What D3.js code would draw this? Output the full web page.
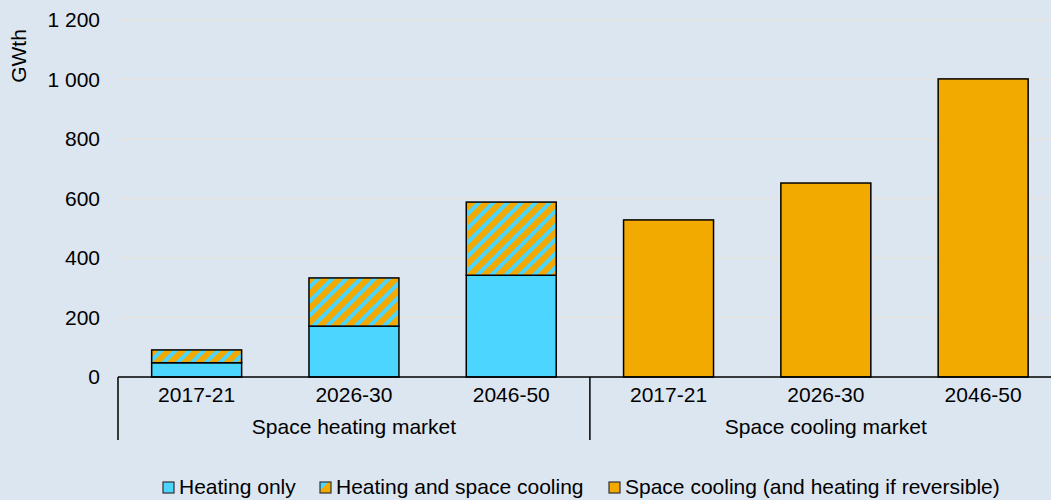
<!DOCTYPE html>
<html>
<head>
<meta charset="utf-8">
<script src="https://cdn.jsdelivr.net/npm/d3@7"></script>
<style>
  html, body { margin: 0; padding: 0; background: #dce6f1; }
  svg { display: block; font-family: "Liberation Sans", Arial, sans-serif; }
</style>
</head>
<body>
<svg id="chart" width="1051" height="500"></svg>
<script>
// Market groups and periods
const groups = ["Space heating market", "Space cooling market"];
const periods = ["2017-21", "2026-30", "2046-50"];

// GWth per period
const heatingOnly = [48, 171, 342];
const heatingAndCooling = [43, 162, 246];
const spaceCooling = [528, 652, 1002];

const yTicks = [0, 200, 400, 600, 800, 1000, 1200];
const seriesNames = ["Heating only", "Heating and space cooling", "Space cooling (and heating if reversible)"];

const CYAN = "#4cd5ff";
const ORANGE = "#f2a900";
const FS = 21;

const svg = d3.select("#chart");
const W = 1051, H = 500;

// Hatched fill for the combined heating/cooling segment
const defs = svg.append("defs");
const pat = defs.append("pattern")
  .attr("id", "hatch")
  .attr("patternUnits", "userSpaceOnUse")
  .attr("width", 10).attr("height", 10)
  .attr("patternTransform", "rotate(45)");
pat.append("rect").attr("width", 10).attr("height", 10).attr("fill", ORANGE);
pat.append("rect").attr("x", 0).attr("width", 4).attr("height", 10).attr("fill", CYAN);

const legendGrad = defs.append("linearGradient")
  .attr("id", "legendSplit").attr("x1", 0).attr("y1", 0).attr("x2", 1).attr("y2", 1);
legendGrad.append("stop").attr("offset", "0.4").attr("stop-color", CYAN);
legendGrad.append("stop").attr("offset", "0.4").attr("stop-color", ORANGE);

// Flattened categories: group × period
const cats = [];
groups.forEach((g, gi) => periods.forEach((p, pi) => cats.push({ key: gi + "|" + p, group: g, gi, period: p, pi })));

const left = 118, bottomY = 377, topY = 20;
const x = d3.scaleBand()
  .domain(cats.map(d => d.key))
  .range([left, left + 6 * 157.3])
  .paddingInner(0.428)
  .paddingOuter(0.214);

const y = d3.scaleLinear().domain([0, 1200]).range([bottomY, topY]);

// Gridlines
svg.append("g").selectAll("line").data(yTicks.filter(t => t > 0)).join("line")
  .attr("x1", left).attr("x2", W)
  .attr("y1", d => y(d)).attr("y2", d => y(d))
  .attr("stroke", "#e6e2dd").attr("stroke-width", 1.3);

// Y axis labels
const fmt = v => d3.format(",")(v).replace(/,/g, " ");
svg.append("g").selectAll("text").data(yTicks).join("text")
  .attr("x", 100).attr("y", d => y(d)).attr("dy", "0.35em")
  .attr("text-anchor", "end").attr("font-size", FS).attr("fill", "#000")
  .text(fmt);

svg.append("text")
  .attr("transform", "translate(26,56) rotate(-90)")
  .attr("text-anchor", "middle").attr("font-size", FS).attr("fill", "#000")
  .text("GWth");

// Bars
const barG = svg.append("g");
cats.forEach(c => {
  const bx = x(c.key), bw = x.bandwidth();
  if (c.gi === 0) {
    const h0 = heatingOnly[c.pi];
    const h1 = h0 + heatingAndCooling[c.pi];
    barG.append("rect")
      .attr("x", bx).attr("width", bw)
      .attr("y", y(h0)).attr("height", y(0) - y(h0))
      .attr("fill", CYAN).attr("stroke", "#000").attr("stroke-width", 1.5);
    barG.append("rect")
      .attr("x", bx).attr("width", bw)
      .attr("y", y(h1)).attr("height", y(h0) - y(h1))
      .attr("fill", "url(#hatch)").attr("stroke", "#000").attr("stroke-width", 1.5);
  } else {
    const v = spaceCooling[c.pi];
    barG.append("rect")
      .attr("x", bx).attr("width", bw)
      .attr("y", y(v)).attr("height", y(0) - y(v))
      .attr("fill", ORANGE).attr("stroke", "#000").attr("stroke-width", 1.5);
  }
});

// X axis baseline and group separators
svg.append("line")
  .attr("x1", left).attr("x2", W).attr("y1", bottomY).attr("y2", bottomY)
  .attr("stroke", "#000").attr("stroke-width", 1.5);
const sepXs = [left, left + 3 * x.step()];
svg.append("g").selectAll("line").data(sepXs).join("line")
  .attr("x1", d => d).attr("x2", d => d)
  .attr("y1", bottomY).attr("y2", 440)
  .attr("stroke", "#000").attr("stroke-width", 1.5);

// Period labels
svg.append("g").selectAll("text").data(cats).join("text")
  .attr("x", d => x(d.key) + x.bandwidth() / 2).attr("y", 402)
  .attr("text-anchor", "middle").attr("font-size", FS).attr("fill", "#000")
  .text(d => d.period);

// Group labels
svg.append("g").selectAll("text").data(groups).join("text")
  .attr("x", (d, i) => left + (i * 3 + 1.5) * x.step()).attr("y", 434)
  .attr("text-anchor", "middle").attr("font-size", FS).attr("fill", "#000")
  .text(d => d);

// Legend
const legendItems = [
  { name: seriesNames[0], fill: CYAN, x: 163 },
  { name: seriesNames[1], fill: "url(#legendSplit)", x: 320 },
  { name: seriesNames[2], fill: ORANGE, x: 609 }
];
const lg = svg.append("g");
legendItems.forEach(it => {
  lg.append("rect").attr("x", it.x).attr("y", 482).attr("width", 11).attr("height", 11)
    .attr("fill", it.fill).attr("stroke", "#333").attr("stroke-width", 1.2);
  lg.append("text").attr("x", it.x + 16).attr("y", 494)
    .attr("font-size", FS).attr("fill", "#000").text(it.name);
});
</script>
</body>
</html>
